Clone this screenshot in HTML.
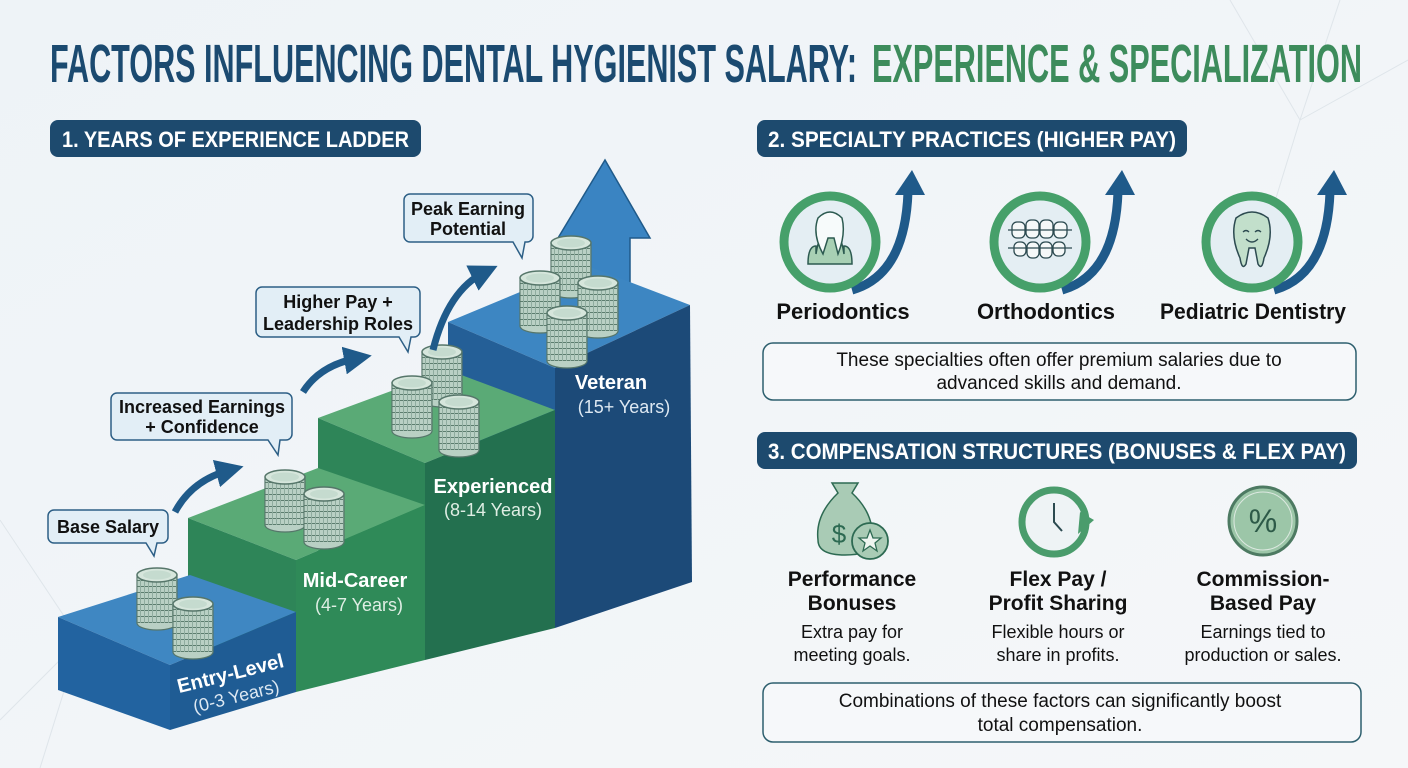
<!DOCTYPE html>
<html><head><meta charset="utf-8"><style>
html,body{margin:0;padding:0;width:1408px;height:768px;overflow:hidden;background:#f2f5f8}
svg{display:block}
text{font-family:"Liberation Sans",sans-serif}
</style></head><body>
<svg width="1408" height="768" viewBox="0 0 1408 768" xmlns="http://www.w3.org/2000/svg">
<defs>
<linearGradient id="bg" x1="0" y1="0" x2="1" y2="1"><stop offset="0" stop-color="#eef3f7"/><stop offset="1" stop-color="#f5f7f9"/></linearGradient>
<pattern id="rid" width="4" height="6" patternUnits="userSpaceOnUse"><rect width="4" height="6" fill="#b9d0c4"/><rect y="5" width="4" height="1" fill="#5c7d6e"/><rect x="3" width="1" height="6" fill="#8fac9f"/></pattern>
<g id="coin"><rect x="-20" y="0" width="40" height="48" fill="url(#rid)" stroke="#56766a" stroke-width="1.2"/><ellipse cx="0" cy="48" rx="20" ry="7" fill="#b9d0c4" stroke="#56766a" stroke-width="1.2"/><rect x="-19.4" y="0" width="38.8" height="48" fill="url(#rid)"/><ellipse cx="0" cy="0" rx="20" ry="7" fill="#d6e6dc" stroke="#56766a" stroke-width="1.5"/><ellipse cx="0" cy="0" rx="14" ry="4.5" fill="#c5dbcf"/></g>
<marker id="ah" markerWidth="4" markerHeight="4" refX="2" refY="2" orient="auto"><path d="M0,0L4,2L0,4z" fill="#1f5a8a"/></marker>
</defs>
<rect width="1408" height="768" fill="url(#bg)"/>
<g stroke="#dfe5ea" stroke-width="1" fill="none"><path d="M1230,0L1300,120L1408,60M1300,120L1260,250M1340,0L1300,120"/><path d="M0,520L80,640L0,720M80,640L40,768"/></g>

<text x="50" y="82" font-size="54" font-weight="bold" fill="#1b4a70" textLength="807" lengthAdjust="spacingAndGlyphs">FACTORS INFLUENCING DENTAL HYGIENIST SALARY:</text>
<text x="872" y="82" font-size="54" font-weight="bold" fill="#3d8c5c" textLength="490" lengthAdjust="spacingAndGlyphs">EXPERIENCE &amp; SPECIALIZATION</text>

<rect x="50" y="120" width="371" height="37" rx="8" fill="#1d4a6e"/>
<text x="62" y="147" font-size="22" font-weight="bold" fill="#fff" textLength="347" lengthAdjust="spacingAndGlyphs">1. YEARS OF EXPERIENCE LADDER</text>
<rect x="757" y="120" width="430" height="37" rx="8" fill="#1d4a6e"/>
<text x="768" y="147" font-size="22" font-weight="bold" fill="#fff" textLength="408" lengthAdjust="spacingAndGlyphs">2. SPECIALTY PRACTICES (HIGHER PAY)</text>
<rect x="757" y="432" width="600" height="37" rx="8" fill="#1d4a6e"/>
<text x="768" y="459" font-size="22" font-weight="bold" fill="#fff" textLength="578" lengthAdjust="spacingAndGlyphs">3. COMPENSATION STRUCTURES (BONUSES &amp; FLEX PAY)</text>

<path d="M578,305L578,238L558,238L605,160L650,238L630,238L630,300z" fill="#3a84c2" stroke="#1f5a8a" stroke-width="1.5"/>

<polygon points="448,322 555,368 690,305 585,265" fill="#3d86c2"/>
<polygon points="555,368 690,305 692,582 555,628" fill="#1c4a78"/>
<polygon points="448,322 555,368 555,628 448,600" fill="#245f97"/>
<polygon points="318,418 425,463 555,410 448,370" fill="#5aaa76"/>
<polygon points="425,463 555,410 555,628 425,660" fill="#23704f"/>
<polygon points="318,418 425,463 425,660 318,640" fill="#2e8558"/>
<polygon points="188,518 296,560 425,505 318,468" fill="#5aaa76"/>
<polygon points="296,560 425,505 425,660 296,692" fill="#2f8a58"/>
<polygon points="188,518 296,560 296,692 188,680" fill="#2e8558"/>
<polygon points="58,617 170,665 296,612 190,575" fill="#3f87c2"/>
<polygon points="170,665 296,612 296,692 170,730" fill="#1f5c94"/>
<polygon points="58,617 170,665 170,730 58,690" fill="#2263a0"/>

<use href="#coin" x="157" y="575"/><use href="#coin" x="193" y="604"/>
<use href="#coin" x="285" y="477"/><use href="#coin" x="324" y="494"/>
<use href="#coin" x="442" y="352"/><use href="#coin" x="412" y="383"/><use href="#coin" x="459" y="402"/>
<use href="#coin" x="571" y="243"/><use href="#coin" x="540" y="278"/><use href="#coin" x="598" y="283"/><use href="#coin" x="567" y="313"/>

<g fill="#fff" text-anchor="middle">
<text x="611" y="389" font-size="20" font-weight="bold">Veteran</text>
<text x="624" y="413" font-size="18" fill="#dde8f2">(15+ Years)</text>
<text x="493" y="493" font-size="20" font-weight="bold">Experienced</text>
<text x="493" y="516" font-size="18" fill="#dfeee4">(8-14 Years)</text>
<text x="355" y="587" font-size="20" font-weight="bold">Mid-Career</text>
<text x="359" y="611" font-size="18" fill="#dfeee4">(4-7 Years)</text>
<g transform="rotate(-14 232 680)"><text x="232" y="680" font-size="20" font-weight="bold">Entry-Level</text><text x="232" y="703" font-size="18" fill="#dde8f2">(0-3 Years)</text></g>
</g>

<g fill="none" stroke="#1f5a8a" stroke-width="7" marker-end="url(#ah)">
<path d="M175,512Q192,480 230,470"/>
<path d="M303,392Q320,365 358,358"/>
<path d="M433,350Q448,290 485,272"/>
</g>

<g fill="#e2eef6" stroke="#2d5f86" stroke-width="1.5">
<path d="M54,510H162a6,6 0 0 1 6,6V537a6,6 0 0 1 -6,6H157L154,556L146,543H54a6,6 0 0 1 -6,-6V516a6,6 0 0 1 6,-6z"/>
<path d="M117,393H286a6,6 0 0 1 6,6V434a6,6 0 0 1 -6,6H280L278,455L268,440H117a6,6 0 0 1 -6,-6V399a6,6 0 0 1 6,-6z"/>
<path d="M262,287H414a6,6 0 0 1 6,6V331a6,6 0 0 1 -6,6H411L408,352L399,337H262a6,6 0 0 1 -6,-6V293a6,6 0 0 1 6,-6z"/>
<path d="M410,194H527a6,6 0 0 1 6,6V236a6,6 0 0 1 -6,6H525L522,258L513,242H410a6,6 0 0 1 -6,-6V200a6,6 0 0 1 6,-6z"/>
</g>
<g font-size="18" font-weight="bold" fill="#111" text-anchor="middle">
<text x="108" y="533">Base Salary</text>
<text x="202" y="413">Increased Earnings</text><text x="202" y="433">+ Confidence</text>
<text x="338" y="308">Higher Pay +</text><text x="338" y="330">Leadership Roles</text>
<text x="468" y="215">Peak Earning</text><text x="468" y="235">Potential</text>
</g>

<g>
<path d="M852,290Q905,275 908,192" fill="none" stroke="#1f5a8a" stroke-width="9"/>
<path d="M895,195L912,170L925,195z" fill="#1f5a8a"/>
<circle cx="830" cy="242" r="46" fill="#e4eef3" stroke="#46a06a" stroke-width="9"/>
</g>
<path d="M808,264Q808,246 816,246V254Q820,228 830,228Q840,228 844,254V246Q852,246 852,264z" fill="#a8d0b4" stroke="#2c5a50" stroke-width="1.5"/>
<path d="M818,218Q830,206 842,218Q846,234 838,254L834,238L828,238L823,254Q812,234 818,218z" fill="#f7fbfb" stroke="#2c5a50" stroke-width="1.5"/>
<g>
<path d="M1062,290Q1115,275 1118,192" fill="none" stroke="#1f5a8a" stroke-width="9"/>
<path d="M1105,195L1122,170L1135,195z" fill="#1f5a8a"/>
<circle cx="1040" cy="242" r="46" fill="#e4eef3" stroke="#46a06a" stroke-width="9"/>
</g>
<g fill="#f5f8f8" stroke="#2c4a50" stroke-width="1.3"><rect x="1012" y="222" width="13" height="16" rx="5"/><rect x="1026" y="220" width="13" height="18" rx="5"/><rect x="1040" y="220" width="13" height="18" rx="5"/><rect x="1054" y="222" width="13" height="16" rx="5"/><rect x="1014" y="242" width="12" height="14" rx="5"/><rect x="1027" y="242" width="12" height="16" rx="5"/><rect x="1040" y="242" width="12" height="16" rx="5"/><rect x="1053" y="242" width="12" height="14" rx="5"/><path d="M1008,230H1072M1008,248H1072"/></g>
<g>
<path d="M1274,290Q1327,275 1330,192" fill="none" stroke="#1f5a8a" stroke-width="9"/>
<path d="M1317,195L1334,170L1347,195z" fill="#1f5a8a"/>
<circle cx="1252" cy="242" r="46" fill="#e4eef3" stroke="#46a06a" stroke-width="9"/>
</g>
<path d="M1236,218Q1252,206 1268,218Q1274,236 1264,258Q1262,271 1258,264L1255,248H1249L1246,264Q1242,271 1240,258Q1230,236 1236,218z" fill="#c2dfcb" stroke="#2c4a50" stroke-width="1.5"/>
<path d="M1243,232q3,-3 6,0M1255,232q3,-3 6,0M1246,239q6,6 12,0" fill="none" stroke="#2c4a50" stroke-width="1.3"/>

<g font-size="22" font-weight="bold" fill="#111" text-anchor="middle">
<text x="843" y="319">Periodontics</text>
<text x="1046" y="319">Orthodontics</text>
<text x="1253" y="319" textLength="186" lengthAdjust="spacingAndGlyphs">Pediatric Dentistry</text>
</g>
<rect x="763" y="343" width="593" height="57" rx="10" fill="#f6f8fa" stroke="#2d5f6e" stroke-width="1.5"/>
<g font-size="19" fill="#111" text-anchor="middle">
<text x="1059" y="366">These specialties often offer premium salaries due to</text>
<text x="1059" y="389">advanced skills and demand.</text>
</g>

<path d="M838,493L832,483H858L852,493Q876,515 872,545Q868,555 845,555Q818,555 818,540Q815,515 838,493z" fill="#a9cbb5" stroke="#2d6a52" stroke-width="1.5"/>
<text x="839" y="543" font-size="26" fill="#2d6a52" text-anchor="middle">$</text>
<circle cx="870" cy="541" r="18" fill="#a9cbb5" stroke="#2d6a52" stroke-width="1.8"/>
<path d="M870,530L873,538L881,538L875,543L877,551L870,546L863,551L865,543L859,538L867,538z" fill="#eef5f0" stroke="#2d6a52" stroke-width="1.3"/>

<circle cx="1054" cy="522" r="32" fill="#eef3f5" stroke="#4a9c6c" stroke-width="7"/>
<path d="M1054,503V522L1062,531" fill="none" stroke="#2c4a50" stroke-width="2"/>
<path d="M1080,512L1094,520L1078,534z" fill="#4a9c6c"/>

<circle cx="1263" cy="521" r="34" fill="#9cc6a8" stroke="#4d7a62" stroke-width="3"/>
<circle cx="1263" cy="521" r="29" fill="none" stroke="#dde9e1" stroke-width="1"/>
<text x="1263" y="532" font-size="32" fill="#2d5a48" text-anchor="middle">%</text>

<g font-size="21" font-weight="bold" fill="#111" text-anchor="middle">
<text x="852" y="586">Performance</text><text x="852" y="610">Bonuses</text>
<text x="1058" y="586">Flex Pay /</text><text x="1058" y="610">Profit Sharing</text>
<text x="1263" y="586">Commission-</text><text x="1263" y="610">Based Pay</text>
</g>
<g font-size="18" fill="#111" text-anchor="middle">
<text x="852" y="638">Extra pay for</text><text x="852" y="661">meeting goals.</text>
<text x="1058" y="638">Flexible hours or</text><text x="1058" y="661">share in profits.</text>
<text x="1263" y="638">Earnings tied to</text><text x="1263" y="661">production or sales.</text>
</g>
<rect x="763" y="683" width="598" height="59" rx="10" fill="#f6f8fa" stroke="#2d5f6e" stroke-width="1.5"/>
<g font-size="19" fill="#111" text-anchor="middle">
<text x="1060" y="707">Combinations of these factors can significantly boost</text>
<text x="1060" y="731">total compensation.</text>
</g>
</svg>
</body></html>
